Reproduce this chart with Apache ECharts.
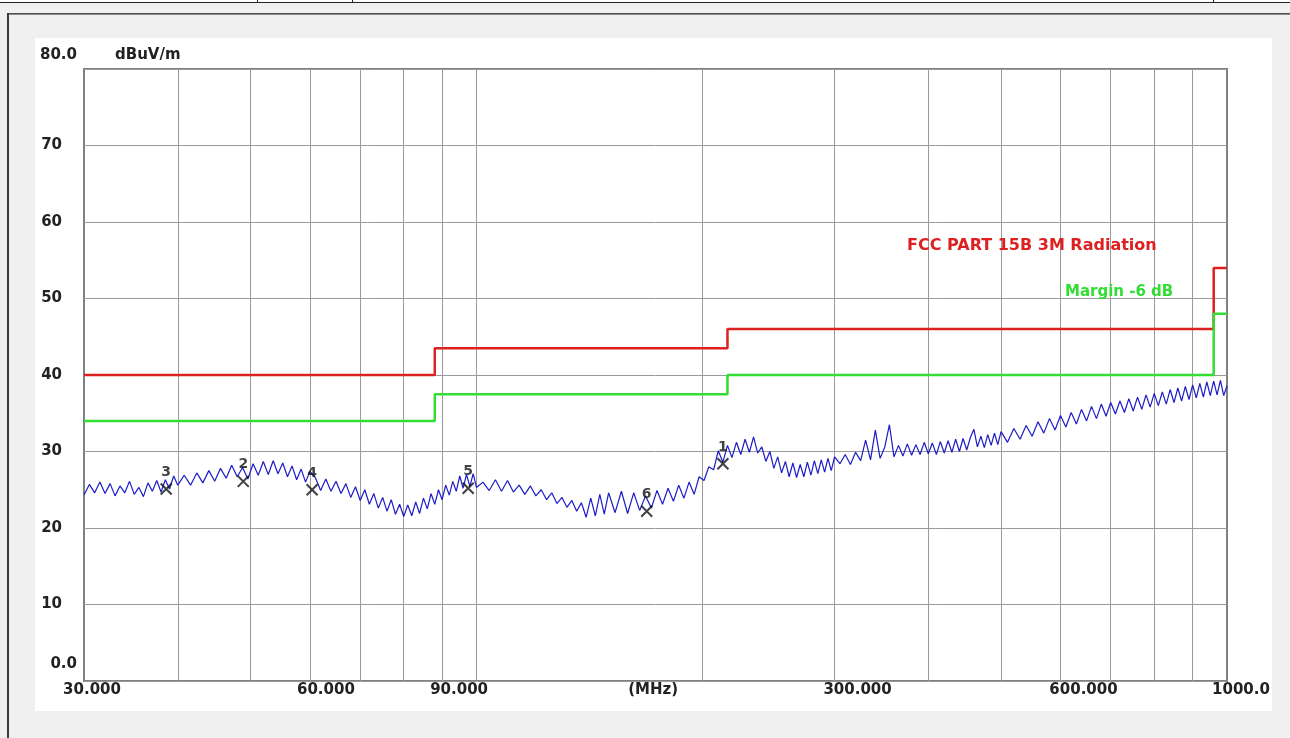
<!DOCTYPE html>
<html>
<head>
<meta charset="utf-8">
<script src="https://cdn.jsdelivr.net/npm/echarts@6/dist/echarts.min.js"></script>
<style>
  html, body { margin: 0; padding: 0; width: 1290px; height: 738px; overflow: hidden; background: #f0f0f0; }
  #topstrip { position: absolute; left: 0; top: 0; width: 1290px; height: 2px; background: #fff; border-bottom: 1px solid #222; }
  .sep { position: absolute; top: 0; width: 1px; height: 3px; background: #222; }
  #dbl { position: absolute; left: 7px; top: 13px; width: 1283px; height: 1px; background: #505050; border-bottom: 1px solid #8a8a8a; }
  #leftline { position: absolute; left: 7px; top: 13px; width: 2px; height: 725px; background: #3a3a3a; }
  #panel { position: absolute; left: 35px; top: 38px; width: 1237px; height: 673px; background: #ffffff; }
  #chart { position: absolute; left: 0; top: 0; width: 1290px; height: 738px; }
</style>
</head>
<body>
<div id="topstrip"></div>
<div class="sep" style="left:257px"></div>
<div class="sep" style="left:352px"></div>
<div class="sep" style="left:1213px"></div>
<div id="dbl"></div>
<div id="leftline"></div>
<div id="panel"></div>
<div id="chart"></div>
<script>
// ---- Data ----
const traceFreq = [
  30,30.5,31,31.5,32,32.5,33,33.5,34,34.5,35,35.5,36,36.5,37,37.5,38,38.5,39,39.5,40,
  40.8,41.6,42.4,43.2,44,44.8,45.6,46.4,47.2,48,48.8,49.6,50.4,51.2,52,52.8,53.6,54.4,55.2,56,56.8,57.6,58.4,59.2,60,
  61,62,63,64,65,66,67,68,69,70,71,72,73,74,75,76,77,78,79,80,
  81,82,83,84,85,86,87,88,89,90,91,92,93,94,95,96,97,98,99,100,
  102,104,106,108,110,112,114,116,118,120,122,124,126,128,130,132,134,136,138,140,142,144,146,148,150,
  153,156,159,162,165,168,171,174,177,180,183,186,189,192,195,198,201,204,207,210,
  213,216,219,222,225,228,231,234,237,240,243,246,249,252,255,258,261,264,267,270,
  273,276,279,282,285,288,291,294,297,300,
  305,310,315,320,325,330,335,340,345,350,355,360,365,370,375,380,385,390,395,400,
  405,410,415,420,425,430,435,440,445,450,455,460,465,470,475,480,485,490,495,500,
  510,520,530,540,550,560,570,580,590,600,610,620,630,640,650,660,670,680,690,700,
  710,720,730,740,750,760,770,780,790,800,810,820,830,840,850,860,870,880,890,900,
  910,920,930,940,950,960,970,980,990,1000
];
const traceLevel = [
  24.3,25.7,24.6,26.0,24.5,25.8,24.2,25.5,24.6,26.1,24.4,25.3,24.1,25.9,24.8,26.2,24.7,26.3,25.1,26.8,25.6,
  26.9,25.6,27.2,25.9,27.5,26.1,27.8,26.5,28.2,26.7,27.9,26.4,28.4,26.9,28.7,27.0,28.8,27.1,28.5,26.7,28.1,26.3,27.7,26.0,27.4,
  26.6,24.9,26.4,24.8,26.1,24.5,25.8,24.0,25.4,23.6,25.0,23.1,24.5,22.6,24.0,22.2,23.7,21.8,23.1,21.5,
  23.0,21.6,23.4,21.9,23.9,22.5,24.5,23.1,25.0,23.7,25.6,24.3,26.1,24.8,26.8,25.2,27.0,25.4,27.1,25.3,
  26.0,24.9,26.3,24.8,26.2,24.7,25.6,24.4,25.5,24.2,25.0,23.7,24.6,23.2,24.0,22.7,23.6,22.2,23.3,21.4,23.9,21.6,24.4,21.8,24.6,
  22.0,24.8,21.9,24.6,22.3,24.2,22.6,24.9,23.1,25.2,23.5,25.6,23.9,26.0,24.4,26.7,26.2,28.0,27.6,30.1,
  28.6,30.8,29.2,31.2,29.6,31.6,29.9,31.9,29.8,30.6,28.7,30.0,27.8,29.3,27.2,28.7,26.7,28.5,26.6,28.3,
  26.7,28.6,26.9,28.8,27.1,28.9,27.3,29.1,27.5,29.3,
  28.4,29.6,28.3,29.9,28.8,31.5,28.9,32.8,29.1,30.6,33.5,29.3,30.8,29.4,31.0,29.5,30.9,29.6,31.2,29.7,
  31.1,29.6,31.3,29.8,31.4,29.9,31.6,30.0,31.7,30.2,31.8,32.9,30.6,32.0,30.5,32.2,30.8,32.4,30.9,32.6,
  31.2,33.0,31.6,33.4,32.0,33.9,32.4,34.3,32.8,34.7,33.2,35.1,33.6,35.5,34.0,35.9,34.3,36.2,34.6,36.4,
  34.9,36.6,35.1,36.9,35.3,37.1,35.5,37.4,35.8,37.6,36.0,37.8,36.2,38.1,36.4,38.3,36.6,38.5,36.8,38.7,
  37.0,38.9,37.1,39.1,37.3,39.2,37.4,39.3,37.3,38.6
];
const limitFreq   = [30, 88, 88, 216, 216, 960, 960, 1000];
const limitLevel  = [40, 40, 43.5, 43.5, 46, 46, 54, 54];
const marginLevel = [34, 34, 37.5, 37.5, 40, 40, 48, 48];
const markerIds   = ['1', '2', '3', '4', '5', '6'];
const markerFreq  = [213, 48.9, 38.6, 60.4, 97.5, 168.6];
const markerLevel = [28.4, 26.1, 25.1, 25.0, 25.2, 22.2];
const xGridValues = [40, 50, 60, 70, 80, 90, 100, 200, 300, 400, 500, 600, 700, 800, 900];
const xLabelValues = [30, 60, 90, 172, 300, 600, 1000];
const xLabelTexts  = ['30.000', '60.000', '90.000', '(MHz)', '300.000', '600.000', '1000.0'];
const yLabelValues = [0, 10, 20, 30, 40, 50, 60, 70, 80];
const yLabelTexts  = ['0.0', '10', '20', '30', '40', '50', '60', '70', '80.0'];
const limitName  = 'FCC PART 15B 3M Radiation';
const marginName = 'Margin -6 dB';
const yUnit = 'dBuV/m';

// ---- Build ----
const FONT = 'DejaVu Sans';
const trace = traceFreq.map((f, i) => [f, traceLevel[i]]);
const limit = limitFreq.map((f, i) => [f, limitLevel[i]]);
const margin = limitFreq.map((f, i) => [f, marginLevel[i]]);
const markers = markerFreq.map((f, i) => ({ value: [f, markerLevel[i]], id: markerIds[i] }));

const xLabelStyle = ['l0', 'l1', 'l2', 'l3', 'l4', 'l5', 'l6'];
const xPad = [16, 32, 34, 0, 46, 46, 28];
const xRich = {};
xLabelStyle.forEach((k, i) => { xRich[k] = { padding: [0, 0, 0, xPad[i]], fontFamily: FONT, fontWeight: 'bold', fontSize: 15, color: '#222' }; });

const chart = echarts.init(document.getElementById('chart'), null, { renderer: 'canvas' });
chart.setOption({
  animation: false,
  backgroundColor: 'transparent',
  grid: { left: 84, right: 63, top: 69, bottom: 57, show: true, borderColor: '#808080', borderWidth: 2, backgroundColor: '#fff' },
  xAxis: {
    type: 'log', logBase: 10, min: 30, max: 1000,
    axisLine: { show: false },
    axisTick: { show: false, customValues: xGridValues },
    splitLine: { show: true, lineStyle: { color: '#9a9a9a', width: 1 } },
    axisLabel: {
      customValues: xLabelValues,
      margin: 2,
      showMinLabel: true, showMaxLabel: true,
      formatter: function (v) {
        let idx = -1;
        xLabelValues.forEach((x, i) => { if (Math.abs(x - v) < 1e-6 * x) idx = i; });
        return idx < 0 ? '' : '{' + xLabelStyle[idx] + '|' + xLabelTexts[idx] + '}';
      },
      rich: xRich
    }
  },
  yAxis: {
    type: 'value', min: 0, max: 80, interval: 10,
    name: yUnit, nameLocation: 'end', nameGap: 14,
    nameTextStyle: { align: 'left', verticalAlign: 'middle', padding: [0, 0, 0, 31], fontFamily: FONT, fontWeight: 'bold', fontSize: 15, color: '#222' },
    axisLine: { show: false },
    axisTick: { show: false },
    splitLine: { show: true, lineStyle: { color: '#9a9a9a', width: 1 } },
    axisLabel: {
      margin: 7, align: 'right',
      showMinLabel: true, showMaxLabel: true,
      formatter: function (v) {
        const i = yLabelValues.indexOf(v);
        const t = i < 0 ? '' : yLabelTexts[i];
        if (v === 80) return '{top|' + t + '}';
        if (v === 0) return '{bot|' + t + '}';
        return '{n|' + t + '}';
      },
      rich: {
        top: { padding: [0, 0, 28, 0], fontFamily: FONT, fontWeight: 'bold', fontSize: 15, color: '#222' },
        bot: { padding: [0, 0, 34, 0], fontFamily: FONT, fontWeight: 'bold', fontSize: 15, color: '#222' },
        n:   { padding: [0, 15, 0, 0], fontFamily: FONT, fontWeight: 'bold', fontSize: 15, color: '#222' }
      }
    }
  },
  series: [
    {
      name: 'trace', type: 'line', data: trace, showSymbol: false, symbol: 'none',
      lineStyle: { color: '#1c1cc8', width: 1.2 }, z: 3
    },
    {
      name: limitName, type: 'line', data: limit, showSymbol: false, symbol: 'none',
      lineStyle: { color: '#dd2020', width: 2.5 }, z: 4
    },
    {
      name: marginName, type: 'line', data: margin, showSymbol: false, symbol: 'none',
      lineStyle: { color: '#33dd33', width: 2.5 }, z: 4
    },
    {
      name: 'markers', type: 'scatter', data: markers,
      symbol: 'path://M0,0L10,10M10,0L0,10', symbolSize: 11,
      itemStyle: { color: 'transparent', borderColor: '#111', borderWidth: 2 },
      label: {
        show: true, position: 'top', distance: 3,
        formatter: p => p.data.id,
        fontFamily: FONT, fontWeight: 'bold', fontSize: 14, color: '#111'
      },
      z: 5
    }
  ],
  graphic: [
    { type: 'text', left: 907, top: 238, style: { text: limitName, fill: '#dd2020', font: 'bold 16px "DejaVu Sans"' }, z: 10 },
    { type: 'text', left: 1065, top: 285, style: { text: marginName, fill: '#33dd33', font: 'bold 15px "DejaVu Sans"' }, z: 10 }
  ]
});
</script>
</body>
</html>
